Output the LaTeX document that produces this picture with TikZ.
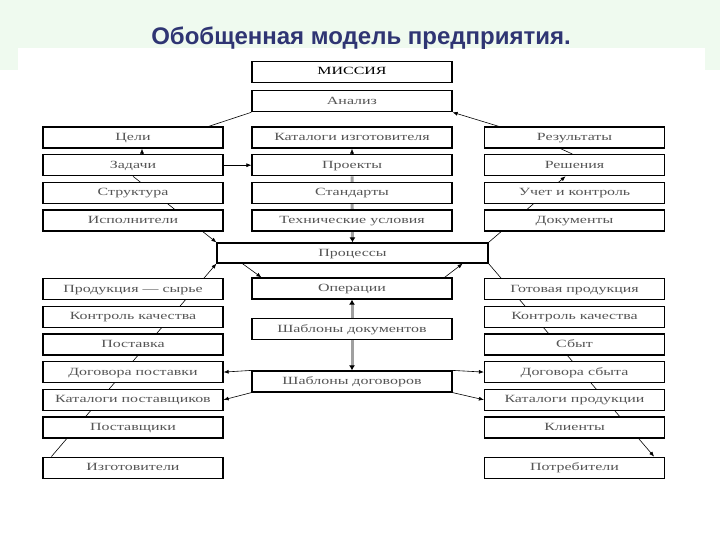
\documentclass[tikz,border=0pt]{standalone}
\usepackage{fontspec}
\setmainfont{Liberation Serif}
\newfontfamily\boxfont[FakeStretch=1.45]{Liberation Serif}
\newfontfamily\titlefont{Liberation Sans}
\usetikzlibrary{arrows.meta, positioning}

\definecolor{titleblue}{HTML}{2F3573}
\definecolor{bggreen}{HTML}{EFFAEF}
\definecolor{boxtext}{HTML}{555555}
\definecolor{flowgray}{HTML}{A0A0A0}

\pgfdeclarelayer{background}
\pgfdeclarelayer{connectors}
\pgfsetlayers{background,connectors,main}

\begin{document}
\begin{tikzpicture}[
    x=1pt, y=-1pt,
    node distance=5.5pt,
    box/.style={draw, line width=1.2pt, fill=white, minimum width=200pt, minimum height=21pt, inner sep=0pt, text height=7pt, text depth=1pt, font=\boxfont\fontsize{11}{12}\selectfont, text=boxtext},
    sidebox/.style={box, minimum width=180pt},
    arrow/.style={-{Latex[length=5pt,width=4pt]}, line width=0.6pt},
    link/.style={line width=0.6pt},
    grayarrow/.style={-{Latex[length=5pt,width=6pt,color=black]}, line width=3pt, flowgray}
]
\useasboundingbox (0,0) rectangle (720,540);

% Background
\begin{pgfonlayer}{background}
\fill[white] (0,0) rectangle (720,540);
\fill[bggreen] (0,0) rectangle (720,70);
\fill[white] (18,48) rectangle (705,70);
\end{pgfonlayer}

\node[font=\titlefont\bfseries\fontsize{24}{27}\selectfont, text=titleblue, anchor=base] (title) at (361,45) {Обобщенная модель предприятия.};

% Nodes - center
\node[box, text=black] (missiya) at (352,72) {МИССИЯ};
\node[box, below=7pt of missiya] (analiz) {Анализ};
\node[box] (katizg) at (352,137.5) {Каталоги изготовителя};
\node[box, below=of katizg] (proekty) {Проекты};
\node[box, below=of proekty] (standarty) {Стандарты};
\node[box, below=of standarty] (tehusl) {Технические условия};
\node[box, minimum width=271pt, minimum height=20pt] (processy) at (352.5,253) {Процессы};
\node[box] (operacii) at (352,288.5) {Операции};
\node[box] (shabdok) at (352,329) {Шаблоны документов};
\node[box] (shabdog) at (352,381.5) {Шаблоны договоров};

% Nodes - left
\node[sidebox] (celi) at (133,137.5) {Цели};
\node[sidebox, below=of celi] (zadachi) {Задачи};
\node[sidebox, below=of zadachi] (struktura) {Структура};
\node[sidebox, below=of struktura] (ispoln) {Исполнители};
\node[sidebox] (syrie) at (133,289) {Продукция — сырье};
\node[sidebox, below=of syrie] (kontrolin) {Контроль качества};
\node[sidebox, below=of kontrolin] (postavka) {Поставка};
\node[sidebox, below=of postavka] (dogpost) {Договора поставки};
\node[sidebox, below=of dogpost] (katpost) {Каталоги поставщиков};
\node[sidebox, below=of katpost] (postavshiki) {Поставщики};
\node[sidebox, below=18pt of postavshiki] (izgot) {Изготовители};

% Nodes - right
\node[sidebox] (rezult) at (574.5,137.5) {Результаты};
\node[sidebox, below=of rezult] (reshenia) {Решения};
\node[sidebox, below=of reshenia] (uchet) {Учет и контроль};
\node[sidebox, below=of uchet] (dokumenty) {Документы};
\node[sidebox] (gotprod) at (574.5,289) {Готовая продукция};
\node[sidebox, below=of gotprod] (kontrolout) {Контроль качества};
\node[sidebox, below=of kontrolout] (sbyt) {Сбыт};
\node[sidebox, below=of sbyt] (dogsbyt) {Договора сбыта};
\node[sidebox, below=of dogsbyt] (katprod) {Каталоги продукции};
\node[sidebox, below=of katprod] (klienty) {Клиенты};
\node[sidebox, below=18pt of klienty] (potreb) {Потребители};

\begin{pgfonlayer}{connectors}
% Arrows - upper left
\draw[link] (analiz.south west) -- ([xshift=-15pt]celi.north east);
\draw[arrow] ([xshift=9pt]zadachi.north) -- ([xshift=9pt]celi.south);
\draw[arrow] (zadachi.east) -- (proekty.west);
\draw[arrow] (zadachi.south) -- (processy.north west);

% Arrows - upper right
\draw[arrow] ([xshift=15pt]rezult.north west) -- (analiz.south east);
\draw[link] ([xshift=-14pt]rezult.south) -- ([xshift=-2pt]reshenia.north);
\draw[arrow] (processy.north east) -- ([xshift=-9pt]reshenia.south);

% Arrows - center
\draw[arrow] (proekty.north) -- (katizg.south);
\draw[grayarrow] (proekty.south) -- (processy.north);
\draw[arrow] ([xshift=26pt]processy.south west) -- ([xshift=10pt]operacii.north west);
\draw[arrow] ([xshift=-8pt]operacii.north east) -- ([xshift=-26pt]processy.south east);
\draw[grayarrow] (shabdok.north) -- (operacii.south);
\draw[grayarrow] (shabdok.south) -- (shabdog.north);

% Arrows - lower part
\draw[arrow] ([xshift=9pt]izgot.north west) -- (processy.south west);
\draw[arrow] (processy.south east) -- ([xshift=-11pt]potreb.north east);
\draw[arrow] (shabdog.north west) -- (dogpost.east);
\draw[arrow] (shabdog.south west) -- (katpost.east);
\draw[arrow] (shabdog.north east) -- (dogsbyt.west);
\draw[arrow] (shabdog.south east) -- (katprod.west);
\end{pgfonlayer}

\end{tikzpicture}
\end{document}
